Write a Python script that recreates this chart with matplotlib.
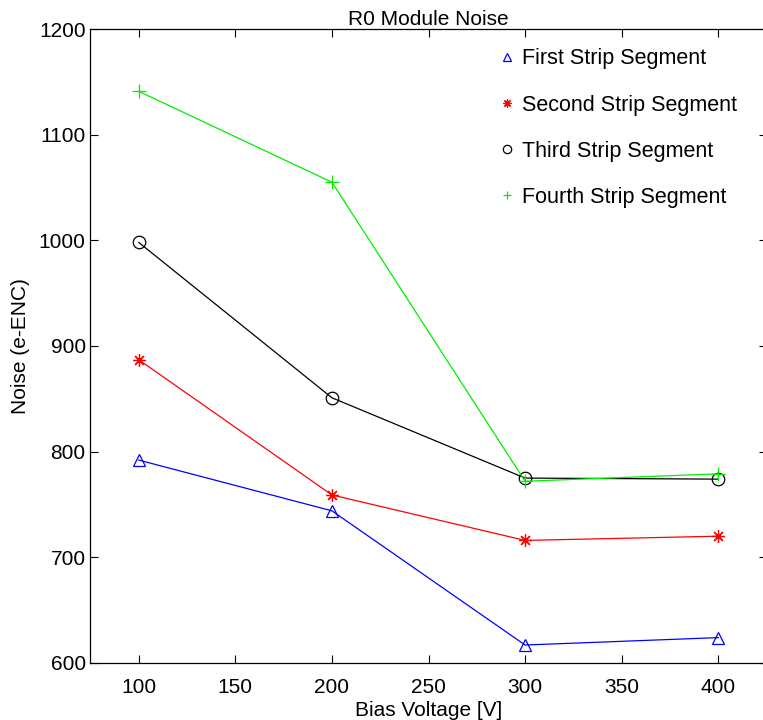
import matplotlib.pyplot as plt

plt.rcParams['font.family'] = ['Liberation Sans', 'DejaVu Sans']

# Data
voltage = [100, 200, 300, 400]
first = [792, 744, 617, 624]
second = [887, 759, 716, 720]
third = [998, 851, 775, 774]
fourth = [1141, 1055, 772, 779]

names = ["First Strip Segment", "Second Strip Segment", "Third Strip Segment", "Fourth Strip Segment"]
colors = ['blue', 'red', 'black', '#00ee00']
markers = ['^', (8, 2, 0), 'o', '+']
sizes = [9, 9, 9, 10]

fig = plt.figure(figsize=(7.63, 7.2), dpi=100)
ax = fig.add_axes([0.1186, 0.0792, 0.886, 0.8805])

for vals, c, m, s, n in zip([first, second, third, fourth], colors, markers, sizes, names):
    ax.plot(voltage, vals, color=c, marker=m, markersize=s, markerfacecolor='none',
            markeredgecolor=c, markeredgewidth=0.9, linewidth=0.9, label=n)

ax.set_xlim(75, 425)
ax.set_ylim(600, 1200)
ax.set_xticks([100, 150, 200, 250, 300, 350, 400])
ax.set_yticks([600, 700, 800, 900, 1000, 1100, 1200])

ax.set_xlabel('Bias Voltage [V]', fontsize=15, labelpad=3)
ax.set_ylabel('Noise (e-ENC)', fontsize=15, labelpad=6)
ax.set_title('R0 Module Noise', fontsize=15, pad=3)

ax.tick_params(direction='in', top=True, right=True, labelsize=15, length=6, width=0.8)
ax.tick_params(axis='x', pad=11)
for sp in ax.spines.values():
    sp.set_linewidth(0.9)

# Legend: markers only, no frame
handles = [plt.Line2D([0], [0], linestyle='none', marker=m, color=c, markerfacecolor='none',
                      markersize=6, markeredgewidth=0.9) for m, c in zip(markers, colors)]
ax.legend(handles, names, loc='upper left', bbox_to_anchor=(0.578, 1.0), frameon=False,
          fontsize=15.5, handlelength=0.6, handletextpad=0.4, labelspacing=1.17)

fig.savefig('out.png', dpi=100)
